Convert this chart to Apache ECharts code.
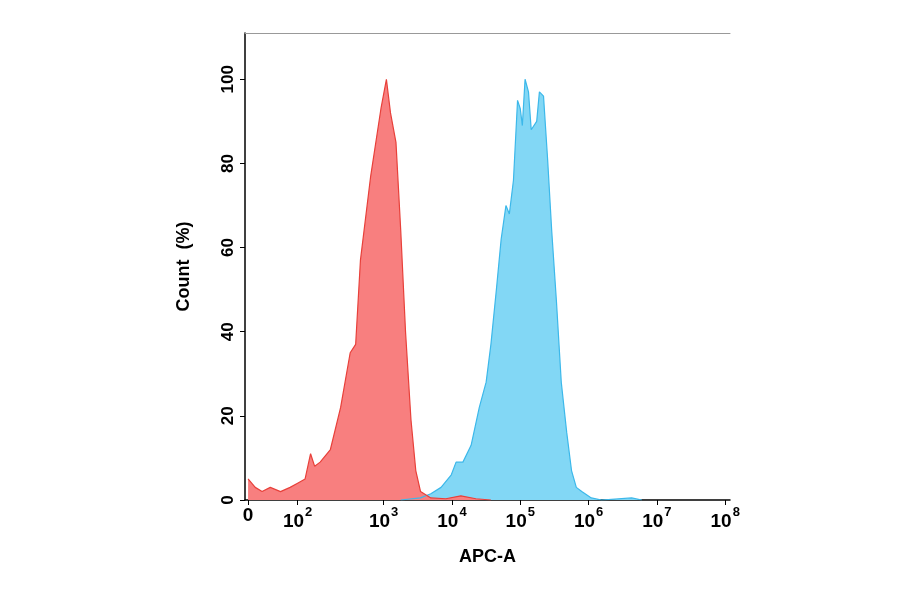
<!DOCTYPE html>
<html><head><meta charset="utf-8">
<script src="https://cdn.jsdelivr.net/npm/echarts@6/dist/echarts.min.js"></script>
<style>html,body{margin:0;background:#fff}#c{width:900px;height:594px}</style>
</head><body><div id="c"></div>
<script>
// x values in display decades (biexponential-like scale: 10^k -> k for k>=3)
const tickPos = [1.015, 1.74, 3, 4, 5, 6, 7, 8];
const tickExp = [null, 2, 3, 4, 5, 6, 7, 8];
const redX = [1.015,1.12,1.22,1.34,1.49,1.63,1.74,1.85,1.93,1.99,2.07,2.22,2.37,2.51,2.59,2.66,2.81,2.96,3.04,3.10,3.18,3.25,3.32,3.40,3.47,3.54,3.69,3.91,4.13,4.35,4.57];
const redY = [5,3,2,3,2,3,4,5,11,8,9,12,22,35,37,57,77,93,100,92,85,64,40,19,7,2,0.5,0.3,1,0.3,0];
const blueX = [3.25,3.54,3.69,3.84,3.99,4.06,4.16,4.28,4.40,4.50,4.57,4.65,4.72,4.79,4.84,4.90,4.96,5.00,5.03,5.07,5.12,5.16,5.24,5.28,5.34,5.40,5.46,5.53,5.60,5.68,5.75,5.82,5.90,6.04,6.19,6.63,6.78];
const blueY = [0,0.5,1.5,3,6,9,9,13,22,28,37,50,62,70,68,76,95,93,89,100,97,88,90,97,96,81,64,47,28,16,7,3,2,0.5,0,0.5,0];
const chart = echarts.init(document.getElementById('c'));
const bold = {fontWeight:'bold',color:'#000',fontFamily:'Arial'};
chart.setOption({
  animation:false,
  grid:{left:245,right:170,top:33,bottom:94},
  xAxis:[{type:'value',min:0.97,max:8.07,name:'APC-A',nameLocation:'middle',nameGap:48,
    nameTextStyle:Object.assign({fontSize:18},bold),
    axisLine:{lineStyle:{color:'#000',width:1.5}},splitLine:{show:false},
    axisTick:{customValues:tickPos,lineStyle:{color:'#000'}},
    axisLabel:{customValues:tickPos,margin:6,fontSize:19,...bold,
      rich:{b:{fontSize:19,...bold,verticalAlign:'bottom'},s:{fontSize:13,...bold,verticalAlign:'top',padding:[0,0,12,1]}},
      formatter:v=>{const i=tickPos.indexOf(v);return tickExp[i]===null?'{b|0}':'{b|10}{s|'+tickExp[i]+'}';}}},
    {type:'value',position:'top',min:0.97,max:8.07,axisLine:{show:true,lineStyle:{color:'#999',width:1}},
     axisTick:{show:false},axisLabel:{show:false},splitLine:{show:false}}],
  yAxis:{type:'value',min:0,max:111,interval:20,name:'Count  (%)',nameLocation:'middle',nameGap:52,
    nameTextStyle:Object.assign({fontSize:18},bold),
    axisLine:{show:true,lineStyle:{color:'#000',width:1.5}},axisTick:{show:true,lineStyle:{color:'#000'}},
    splitLine:{show:false},
    axisLabel:{showMaxLabel:false,fontSize:17,...bold,rotate:90}},
  series:[
    {type:'line',data:blueX.map((x,i)=>[x,blueY[i]]),showSymbol:false,
     lineStyle:{color:'#3cb8ea',width:1.2},areaStyle:{color:'#82d7f5',opacity:1}},
    {type:'line',data:redX.map((x,i)=>[x,redY[i]]),showSymbol:false,
     lineStyle:{color:'#e8403a',width:1.2},areaStyle:{color:'#f87f7f',opacity:1}}
  ]
});
</script></body></html>
